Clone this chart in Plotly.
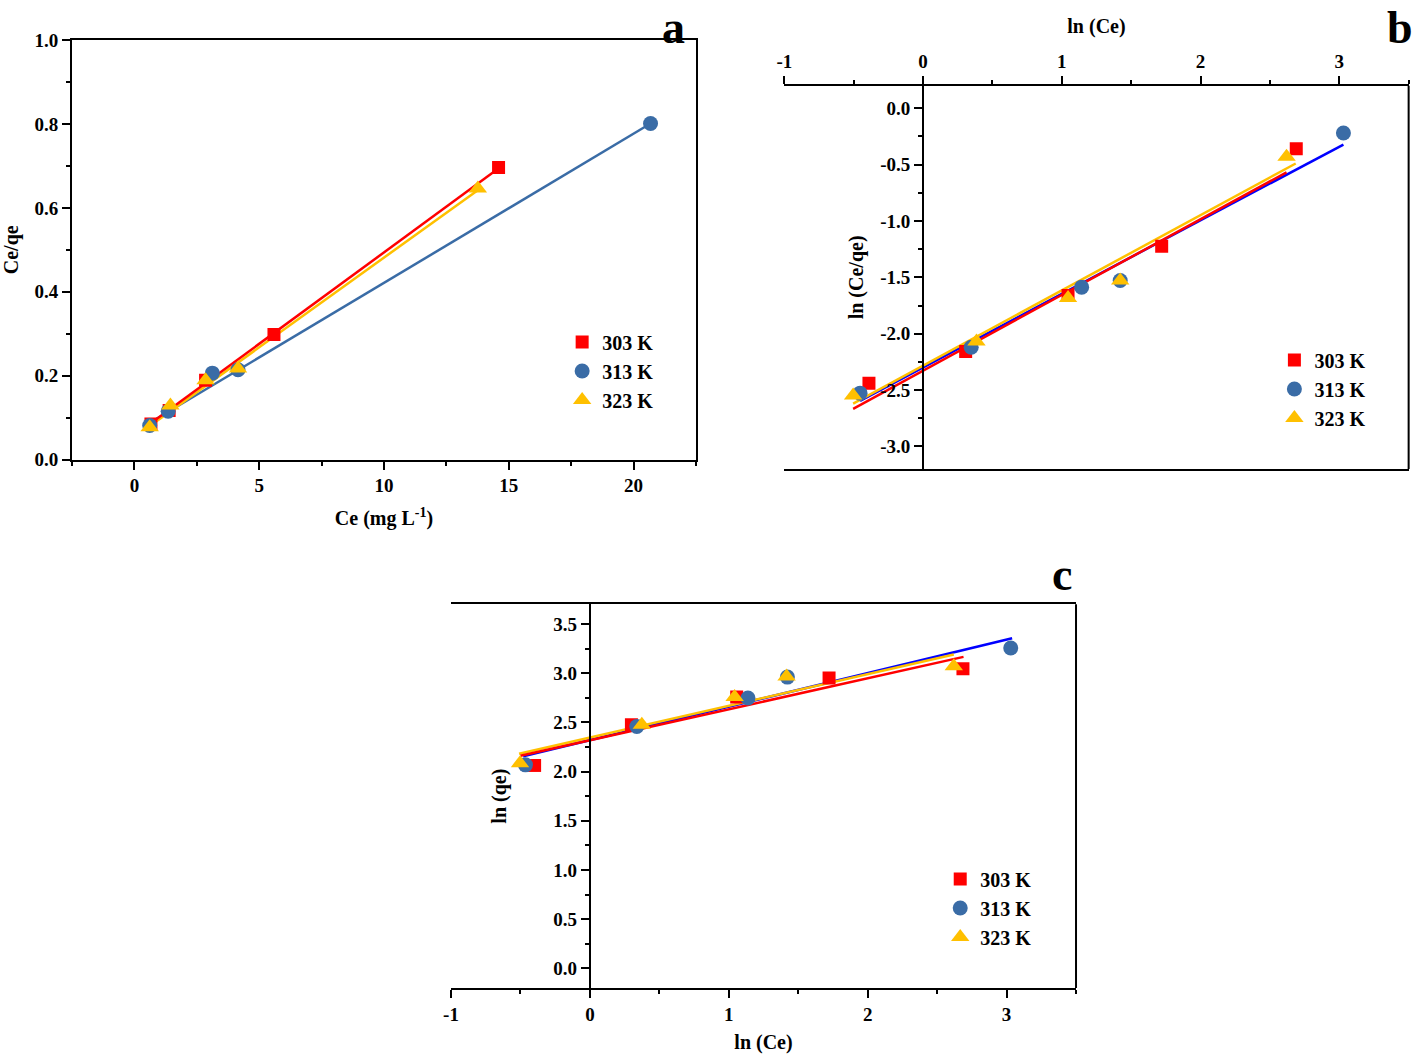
import plotly.graph_objects as go

FONT = "Liberation Serif"
RED = "#FF0000"
BLUE_M = "#3A6CA6"
YEL = "#FFC000"
BLUE_L = "#0000FF"

labels = ["303 K", "313 K", "323 K"]

# ---------------- panel a : Ce/qe vs Ce ----------------
a_x_303 = [0.66, 1.39, 2.85, 5.59, 14.59]
a_y_303 = [0.085, 0.117, 0.189, 0.298, 0.696]
a_x_313 = [0.61, 1.35, 3.12, 4.15, 20.68]
a_y_313 = [0.081, 0.115, 0.206, 0.214, 0.801]
a_x_323 = [0.61, 1.44, 2.85, 4.15, 13.76]
a_y_323 = [0.077, 0.129, 0.189, 0.217, 0.646]
# fitted lines (end points)
a_fit_x_303 = [0.53, 14.5]
a_fit_y_303 = [0.081, 0.690]
a_fit_x_313 = [0.6, 20.68]
a_fit_y_313 = [0.087, 0.801]
a_fit_x_323 = [0.45, 13.8]
a_fit_y_323 = [0.073, 0.644]
a_xticks = [0, 5, 10, 15, 20]
a_xticktext = ["0", "5", "10", "15", "20"]
a_yticks = [0.0, 0.2, 0.4, 0.6, 0.8, 1.0]
a_yticktext = ["0.0", "0.2", "0.4", "0.6", "0.8", "1.0"]

# ---------------- panel b : ln(Ce/qe) vs ln(Ce) ----------------
b_x_303 = [-0.39, 0.307, 1.045, 1.72, 2.69]
b_y_303 = [-2.44, -2.158, -1.661, -1.224, -0.36]
b_x_313 = [-0.454, 0.347, 1.143, 1.421, 3.03]
b_y_313 = [-2.527, -2.12, -1.587, -1.528, -0.22]
b_x_323 = [-0.504, 0.385, 1.045, 1.421, 2.62]
b_y_323 = [-2.548, -2.069, -1.682, -1.528, -0.43]
b_fit_x_303 = [-0.504, 2.62]
b_fit_y_303 = [-2.666, -0.568]
b_fit_x_313 = [-0.454, 3.03]
b_fit_y_313 = [-2.595, -0.322]
b_fit_x_323 = [-0.504, 2.686]
b_fit_y_323 = [-2.62, -0.49]
b_xticks = [-1, 0, 1, 2, 3]
b_xticktext = ["-1", "0", "1", "2", "3"]
b_yticks = [-3.0, -2.5, -2.0, -1.5, -1.0, -0.5, 0.0]
b_yticktext = ["-3.0", "-2.5", "-2.0", "-1.5", "-1.0", "-0.5", "0.0"]

# ---------------- panel c : ln(qe) vs ln(Ce) ----------------
c_x_303 = [-0.398, 0.299, 1.057, 1.722, 2.686]
c_y_303 = [2.062, 2.475, 2.757, 2.950, 3.045]
c_x_313 = [-0.464, 0.338, 1.138, 1.422, 3.03]
c_y_313 = [2.068, 2.458, 2.747, 2.960, 3.255]
c_x_323 = [-0.503, 0.374, 1.042, 1.416, 2.62]
c_y_323 = [2.085, 2.475, 2.757, 2.967, 3.069]
c_fit_x_303 = [-0.5, 2.69]
c_fit_y_303 = [2.16, 3.165]
c_fit_x_313 = [-0.48, 3.04]
c_fit_y_313 = [2.155, 3.355]
c_fit_x_323 = [-0.51, 2.62]
c_fit_y_323 = [2.18, 3.19]
c_xticks = [-1, 0, 1, 2, 3]
c_xticktext = ["-1", "0", "1", "2", "3"]
c_yticks = [0.0, 0.5, 1.0, 1.5, 2.0, 2.5, 3.0, 3.5]
c_yticktext = ["0.0", "0.5", "1.0", "1.5", "2.0", "2.5", "3.0", "3.5"]

fig = go.Figure()

symbols = ["square", "circle", "triangle-up"]
msizes = [13, 15, 16]
mcolors = [RED, BLUE_M, YEL]


def add_panel(xa, ya, legend, pts, fits, line_colors):
    # lines first, markers on top
    for (fx, fy), lc in zip(fits, line_colors):
        fig.add_trace(go.Scatter(x=fx, y=fy, mode="lines", xaxis=xa, yaxis=ya,
                                 line=dict(color=lc, width=2.5), showlegend=False,
                                 hoverinfo="skip"))
    for i, (px, py) in enumerate(pts):
        fig.add_trace(go.Scatter(x=px, y=py, mode="markers", xaxis=xa, yaxis=ya,
                                 name=labels[i], legend=legend,
                                 marker=dict(symbol=symbols[i], size=msizes[i],
                                             color=mcolors[i], line=dict(width=0))))


add_panel("x", "y", "legend",
          [(a_x_303, a_y_303), (a_x_313, a_y_313), (a_x_323, a_y_323)],
          [(a_fit_x_313, a_fit_y_313), (a_fit_x_323, a_fit_y_323), (a_fit_x_303, a_fit_y_303)],
          [BLUE_M, YEL, RED])
add_panel("x2", "y2", "legend2",
          [(b_x_303, b_y_303), (b_x_313, b_y_313), (b_x_323, b_y_323)],
          [(b_fit_x_313, b_fit_y_313), (b_fit_x_323, b_fit_y_323), (b_fit_x_303, b_fit_y_303)],
          [BLUE_L, YEL, RED])
add_panel("x3", "y3", "legend3",
          [(c_x_303, c_y_303), (c_x_313, c_y_313), (c_x_323, c_y_323)],
          [(c_fit_x_313, c_fit_y_313), (c_fit_x_323, c_fit_y_323), (c_fit_x_303, c_fit_y_303)],
          [BLUE_L, YEL, RED])

tickfont = dict(family=FONT, size=19, color="black", weight="bold")
titlefont = dict(family=FONT, size=20, color="black", weight="bold")
legfont = dict(family=FONT, size=20, color="black", weight="bold")


def axis(**kw):
    d = dict(showline=True, linewidth=2, linecolor="black", ticks="outside",
             ticklen=8, tickwidth=2, tickcolor="black", showgrid=False,
             zeroline=False, tickfont=tickfont, tickmode="array", automargin=False)
    d.update(kw)
    return d


def minor(dt):
    return dict(dtick=dt, ticks="outside", ticklen=4, tickwidth=2,
                tickcolor="black", showgrid=False)


# domains (paper fractions)
ax_dom = [0.0509, 0.4915]
ay_dom = [0.5640, 0.9620]
bx_dom = [0.5539, 0.9948]
by_dom = [0.5550, 0.9187]
cx_dom = [0.3185, 0.7599]
cy_dom = [0.0626, 0.4267]

b_xrange = [-1, 3.5]
c_xrange = [-1, 3.5]
b_ypos = bx_dom[0] + (0 - b_xrange[0]) / (b_xrange[1] - b_xrange[0]) * (bx_dom[1] - bx_dom[0])
c_ypos = cx_dom[0] + (0 - c_xrange[0]) / (c_xrange[1] - c_xrange[0]) * (cx_dom[1] - cx_dom[0])

fig.update_layout(
    template="none",
    width=1416, height=1054,
    margin=dict(l=0, r=0, t=0, b=0, autoexpand=False),
    paper_bgcolor="white", plot_bgcolor="white",
    font=dict(family=FONT, size=17, color="black"),
    xaxis=axis(domain=ax_dom, anchor="y", range=[-2.5, 22.5], mirror=True,
               tickvals=a_xticks, ticktext=a_xticktext, minor=minor(2.5),
               title=dict(text="Ce (mg L<sup>-1</sup>)", font=titlefont, standoff=16)),
    yaxis=axis(domain=ay_dom, anchor="x", range=[0, 1.0], mirror=True,
               tickvals=a_yticks, ticktext=a_yticktext, minor=minor(0.1),
               title=dict(text="Ce/qe", font=titlefont, standoff=12)),
    xaxis2=axis(domain=bx_dom, anchor="y2", range=b_xrange, side="top", mirror=True,
                tickvals=b_xticks, ticktext=b_xticktext, minor=minor(0.5),
                title=dict(text="ln (Ce)", font=titlefont, standoff=12)),
    yaxis2=axis(domain=by_dom, anchor="free", position=b_ypos, range=[-3.2, 0.2],
                tickvals=b_yticks, ticktext=b_yticktext, minor=minor(0.25),
                title=dict(text="ln (Ce/qe)", font=titlefont, standoff=10)),
    xaxis3=axis(domain=cx_dom, anchor="y3", range=c_xrange, mirror=True,
                tickvals=c_xticks, ticktext=c_xticktext, minor=minor(0.5),
                title=dict(text="ln (Ce)", font=titlefont, standoff=14)),
    yaxis3=axis(domain=cy_dom, anchor="free", position=c_ypos, range=[-0.2, 3.7],
                tickvals=c_yticks, ticktext=c_yticktext, minor=minor(0.25),
                title=dict(text="ln (qe)", font=titlefont, standoff=40)),
    legend=dict(x=0.397, y=1 - 371 / 1054, xanchor="left", yanchor="middle", font=legfont,
                bgcolor="rgba(0,0,0,0)", itemwidth=30),
    legend2=dict(x=0.900, y=1 - 389 / 1054, xanchor="left", yanchor="middle", font=legfont,
                 bgcolor="rgba(0,0,0,0)", itemwidth=30),
    legend3=dict(x=0.664, y=1 - 908 / 1054, xanchor="left", yanchor="middle", font=legfont,
                 bgcolor="rgba(0,0,0,0)", itemwidth=30),
    shapes=[
        dict(type="line", xref="x2 domain", yref="y2 domain", x0=1, x1=1, y0=0, y1=1,
             line=dict(color="black", width=2)),
        dict(type="line", xref="x3 domain", yref="y3 domain", x0=1, x1=1, y0=0, y1=1,
             line=dict(color="black", width=2)),
    ],
    annotations=[
        dict(text="a", x=673 / 1416, y=1.0, xref="paper", yref="paper",
             xanchor="center", yanchor="top", showarrow=False,
             font=dict(family=FONT, size=46, color="black", weight="bold")),
        dict(text="b", x=1400 / 1416, y=1.0, xref="paper", yref="paper",
             xanchor="center", yanchor="top", showarrow=False,
             font=dict(family=FONT, size=46, color="black", weight="bold")),
        dict(text="c", x=1062 / 1416, y=1 - 574 / 1054, xref="paper", yref="paper",
             xanchor="center", yanchor="middle", showarrow=False,
             font=dict(family=FONT, size=46, color="black", weight="bold")),
    ],
)

fig.write_html("out.html", config={"displayModeBar": False},
               post_script="document.body.style.margin='0';")
